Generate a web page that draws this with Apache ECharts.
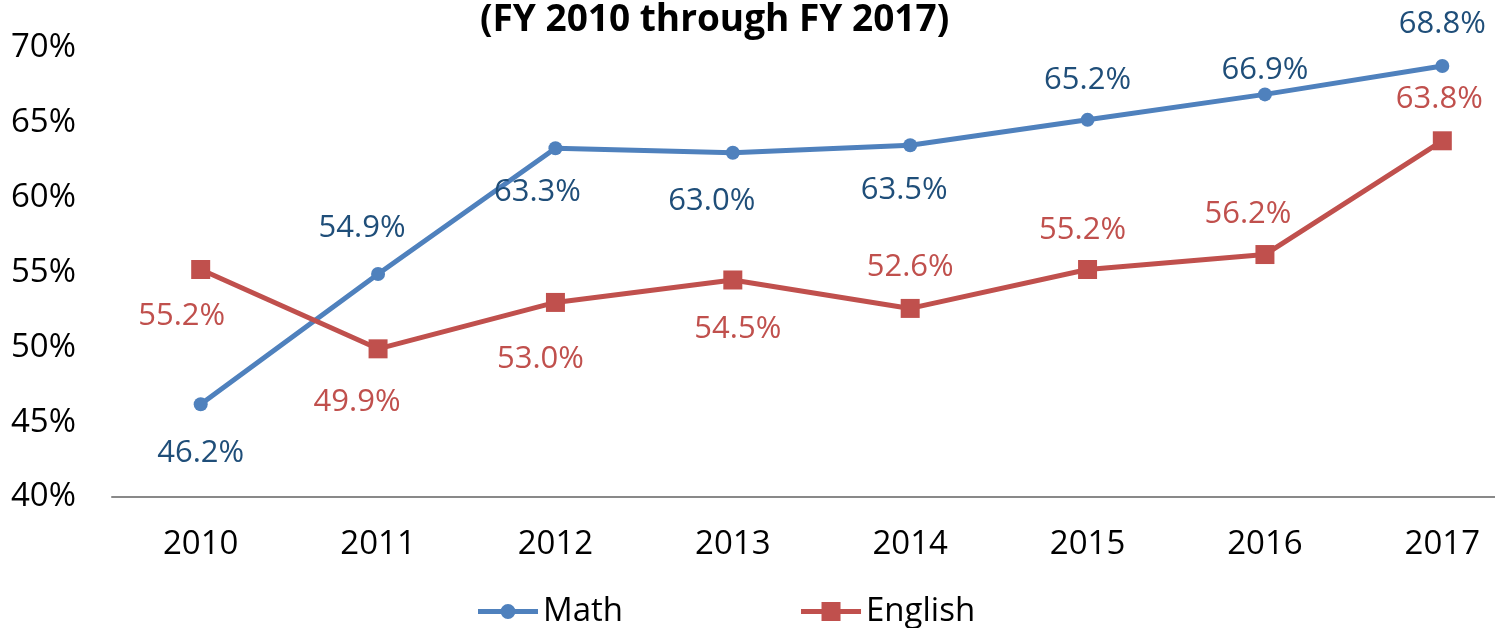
<!DOCTYPE html>
<html>
<head>
<meta charset="utf-8">
<script src="https://cdn.jsdelivr.net/npm/echarts@6/dist/echarts.min.js"></script>
<style>
  html, body { margin: 0; padding: 0; background: #fff; overflow: hidden; }
  /* the original plot area runs past the right edge of the picture */
  #chart { width: 1531px; height: 628px; }
</style>
</head>
<body>
<div id="chart"></div>
<script>
// data
const years = ['2010', '2011', '2012', '2013', '2014', '2015', '2016', '2017'];
const mathPct = [46.2, 54.9, 63.3, 63.0, 63.5, 65.2, 66.9, 68.8];
const englishPct = [55.2, 49.9, 53.0, 54.5, 52.6, 55.2, 56.2, 63.8];

// which side of the point each data label sits on, plus small hand nudges
const mathLabelSide = ['bottom', 'top', 'bottom', 'bottom', 'bottom', 'top', 'top', 'top'];
const englishLabelSide = ['bottom', 'bottom', 'bottom', 'bottom', 'top', 'top', 'top', 'top'];
const mathLabelNudge = [[0, 0], [-16, 3], [-18, -5], [-21, 0], [-6, -4], [0, 9], [0, 24], [0, 7]];
const englishLabelNudge = [[-19, 0], [-21, 6], [-15, 10], [5, 2], [0, 6], [-5, 8], [-17, 7], [-3, 5]];

const FONT = '"Open Sans", sans-serif';

// legend icons: thick line with the marker on top (empty subpaths fix the box at 60x20)
const BOX = 'M0,0 L0.01,0 Z M0,20 L0.01,20 Z ';
const mathIcon = 'path://' + BOX + 'M0,7.5 L60,7.5 L60,12.5 L0,12.5 Z M22.5,10 A7.5,7.5 0 1,1 37.5,10 A7.5,7.5 0 1,1 22.5,10 Z';
const englishIcon = 'path://' + BOX + 'M0,7.5 L60,7.5 L60,12.5 L0,12.5 Z M20.5,0.5 L39.5,0.5 L39.5,19.5 L20.5,19.5 Z';

function withLabels(values, sides, nudges, color, dist) {
  return values.map((v, i) => ({
    value: v,
    label: {
      show: true,
      position: sides[i],
      distance: dist,
      offset: nudges[i],
      color: color,
      fontSize: 31,
      fontFamily: FONT,
      formatter: (p) => p.value.toFixed(1) + '%',
    },
  }));
}

const chart = echarts.init(document.getElementById('chart'));

const option = {
  animation: false,
  title: {
    text: '(FY 2010 through FY 2017)',
    left: 480,
    top: 2,
    padding: 0,
    textStyle: {
      fontFamily: FONT,
      fontWeight: 'bold',
      fontSize: 37,
      color: '#000',
    },
  },
  grid: {
    left: 112,
    right: 0,
    top: 48,
    bottom: 131,
  },
  legend: {
    left: 478,
    top: 595,
    padding: 0,
    itemWidth: 60,
    itemHeight: 20,
    itemGap: 178,
    textStyle: {
      fontFamily: FONT,
      fontSize: 33,
      color: '#000',
    },
    data: [
      { name: 'Math', icon: mathIcon },
      { name: 'English', icon: englishIcon },
    ],
  },
  xAxis: {
    type: 'category',
    boundaryGap: true,
    data: years,
    axisTick: { show: false },
    axisLine: { lineStyle: { color: '#898989', width: 2 } },
    axisLabel: {
      color: '#000',
      fontFamily: FONT,
      fontSize: 33,
      margin: 31,
    },
  },
  yAxis: {
    type: 'value',
    min: 40,
    max: 70,
    interval: 5,
    axisLine: { show: false },
    axisTick: { show: false },
    splitLine: { show: false },
    axisLabel: {
      color: '#000',
      fontFamily: FONT,
      fontSize: 33,
      margin: 36,
      formatter: '{value}%',
    },
  },
  series: [
    {
      name: 'Math',
      type: 'line',
      symbol: 'circle',
      symbolSize: 14,
      lineStyle: { color: '#4F81BD', width: 5 },
      itemStyle: { color: '#4F81BD' },
      data: withLabels(mathPct, mathLabelSide, mathLabelNudge, '#1F4E79', 26),
    },
    {
      name: 'English',
      type: 'line',
      symbol: 'rect',
      symbolSize: 19,
      lineStyle: { color: '#C0504D', width: 5 },
      itemStyle: { color: '#C0504D' },
      data: withLabels(englishPct, englishLabelSide, englishLabelNudge, '#C0504D', 22),
    },
  ],
};

chart.setOption(option);
</script>
</body>
</html>
